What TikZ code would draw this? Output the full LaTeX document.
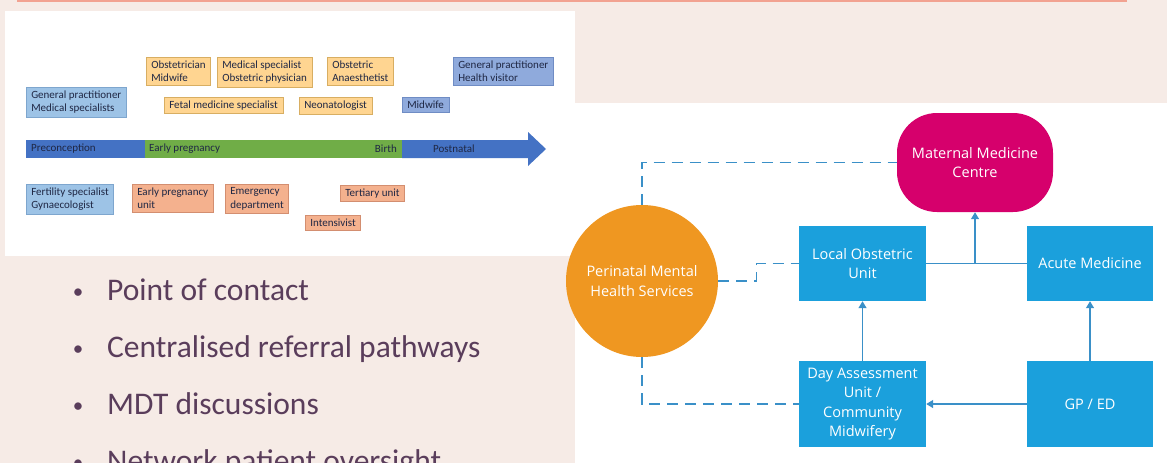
\documentclass[tikz,border=0pt]{standalone}
\usepackage{fontspec}
\setmainfont{Carlito}
\newfontfamily\segoe{Open Sans}
\usetikzlibrary{arrows.meta}
\definecolor{slidebg}{HTML}{F6EBE6}
\definecolor{rulec}{HTML}{F2A291}
\definecolor{tlblue}{HTML}{9DC3E6}
\definecolor{tlblueb}{HTML}{7EA6CE}
\definecolor{tlviolet}{HTML}{8FAADC}
\definecolor{tlvioletb}{HTML}{6F8CC4}
\definecolor{tlorange}{HTML}{FFD591}
\definecolor{tlorangeb}{HTML}{D8AE62}
\definecolor{tlsalmon}{HTML}{F4B18E}
\definecolor{tlsalmonb}{HTML}{D38E70}
\definecolor{barblue}{HTML}{4472C4}
\definecolor{bargreen}{HTML}{70AD47}
\definecolor{tltext}{HTML}{1F2744}
\definecolor{bulletc}{HTML}{5A3D5B}
\definecolor{mmcc}{HTML}{D6006C}
\definecolor{pmhsc}{HTML}{EF9721}
\definecolor{unitc}{HTML}{1BA0DC}
\definecolor{linkc}{HTML}{3A90C8}
\tikzset{
  tlbox/.style={anchor=north west, line width=0.6pt, inner xsep=5pt, inner ysep=3.5pt, align=left, text=tltext, font=\fontsize{11}{13.5}\selectfont},
  obst/.style={tlbox, fill=tlorange, draw=tlorangeb},
  gen/.style={tlbox, fill=tlblue, draw=tlblueb},
  comm/.style={tlbox, fill=tlviolet, draw=tlvioletb},
  hosp/.style={tlbox, fill=tlsalmon, draw=tlsalmonb},
  barlabel/.style={inner sep=0pt, text=tltext, font=\fontsize{11}{13.5}\selectfont},
  point/.style={anchor=base west, inner sep=0pt, text=bulletc, font=\fontsize{31.5}{36}\selectfont},
  unit/.style={fill=unitc, text=white, align=center, inner sep=2pt, font=\segoe\fontsize{14.5}{19.5}\selectfont},
  link/.style={draw=linkc, line width=1.3pt},
  flow/.style={link, -{Triangle[width=8pt,length=7pt]}},
  dashlink/.style={link, dash pattern=on 11pt off 7pt},
}

\begin{document}
\begin{tikzpicture}[x=1pt,y=-1pt]
\useasboundingbox (0,0) rectangle (1167,463);
\clip (0,0) rectangle (1167,463);
\fill[slidebg] (0,0) rectangle (1167,463);
\draw[rulec, line width=2pt] (17,1) -- (1127,1);
\fill[white] (5,11) rectangle (575,256);
\fill[white] (575,103) rectangle (1167,463);

% care timeline
\fill[barblue] (26,140) rectangle (145,158);
\fill[bargreen] (145,140) rectangle (402,158);
\fill[barblue] (402,140) -- (528,140) -- (528,132) -- (546,149) -- (528,166) -- (528,158) -- (402,158) -- cycle;
\node[barlabel, anchor=west] (precon) at (31,149) {Preconception};
\node[barlabel, anchor=west] (early) at (149,149) {Early pregnancy};
\node[barlabel, anchor=east] (birth) at (397,149) {Birth};
\node[barlabel, anchor=west] (postnatal) at (433,149) {Postnatal};

\node[gen] (gpms) at (26,87) {General practitioner\\Medical specialists};
\node[obst] (obmw) at (146,57) {Obstetrician\\Midwife};
\node[obst] (medsp) at (217,57) {Medical specialist\\Obstetric physician};
\node[obst] (obana) at (327,57) {Obstetric\\Anaesthetist};
\node[comm] (gphv) at (453,57) {General practitioner\\Health visitor};
\node[obst] (fetal) at (164,97) {Fetal medicine specialist};
\node[obst] (neo) at (299,97) {Neonatologist};
\node[comm] (midw) at (402,97) {Midwife};

\node[gen] (fert) at (26,184) {Fertility specialist\\Gynaecologist};
\node[hosp] (epu) at (132,184) {Early pregnancy\\unit};
\node[hosp] (ed) at (225,184) {Emergency\\department};
\node[hosp] (tert) at (340,185) {Tertiary unit};
\node[hosp] (intens) at (305,215) {Intensivist};

% bullet points
\foreach \txt [count=\i] in {Point of contact, Centralised referral pathways, MDT discussions, Network patient oversight} {
  \node[point, anchor=base, font=\fontsize{21}{24}\selectfont] (dot\i) at (78,241+57*\i) {\textbullet};
  \node[point] (item\i) at (107,243+57*\i) {\txt};
}

% network of care
\node[fill=mmcc, text=white, align=center, rounded corners=40pt, minimum width=156pt, minimum height=99pt, font=\segoe\fontsize{14.5}{19.5}\selectfont] (mmc) at (975,162.5) {Maternal Medicine\\Centre};
\node[circle, fill=pmhsc, text=white, align=center, minimum size=152pt, inner sep=0pt, font=\segoe\fontsize{14.5}{19.5}\selectfont] (pmhs) at (642,281) {Perinatal Mental\\Health Services};
\node[unit, minimum width=127pt, minimum height=75pt] (lou) at (862.5,263.5) {Local Obstetric\\Unit};
\node[unit, minimum width=126pt, minimum height=75pt] (acute) at (1090,263.5) {Acute Medicine};
\node[unit, minimum width=127pt, minimum height=86pt] (dau) at (862.5,404) {Day Assessment\\Unit /\\Community\\Midwifery};
\node[unit, minimum width=126pt, minimum height=86pt] (gped) at (1090,404) {GP / ED};

\draw[link] (lou.east) -- (acute.west);
\draw[flow] (mmc.south |- lou.east) -- (mmc.south);
\draw[flow] (dau.north) -- (lou.south);
\draw[flow] (gped.north) -- (acute.south);
\draw[flow] (gped.west) -- (dau.east);
\draw[dashlink] (pmhs.north) |- (mmc.west);
\draw[dashlink] (pmhs.east) -- ++(38,0) |- (lou.west);
\draw[dashlink] (pmhs.south) |- (dau.west);
\end{tikzpicture}
\end{document}
